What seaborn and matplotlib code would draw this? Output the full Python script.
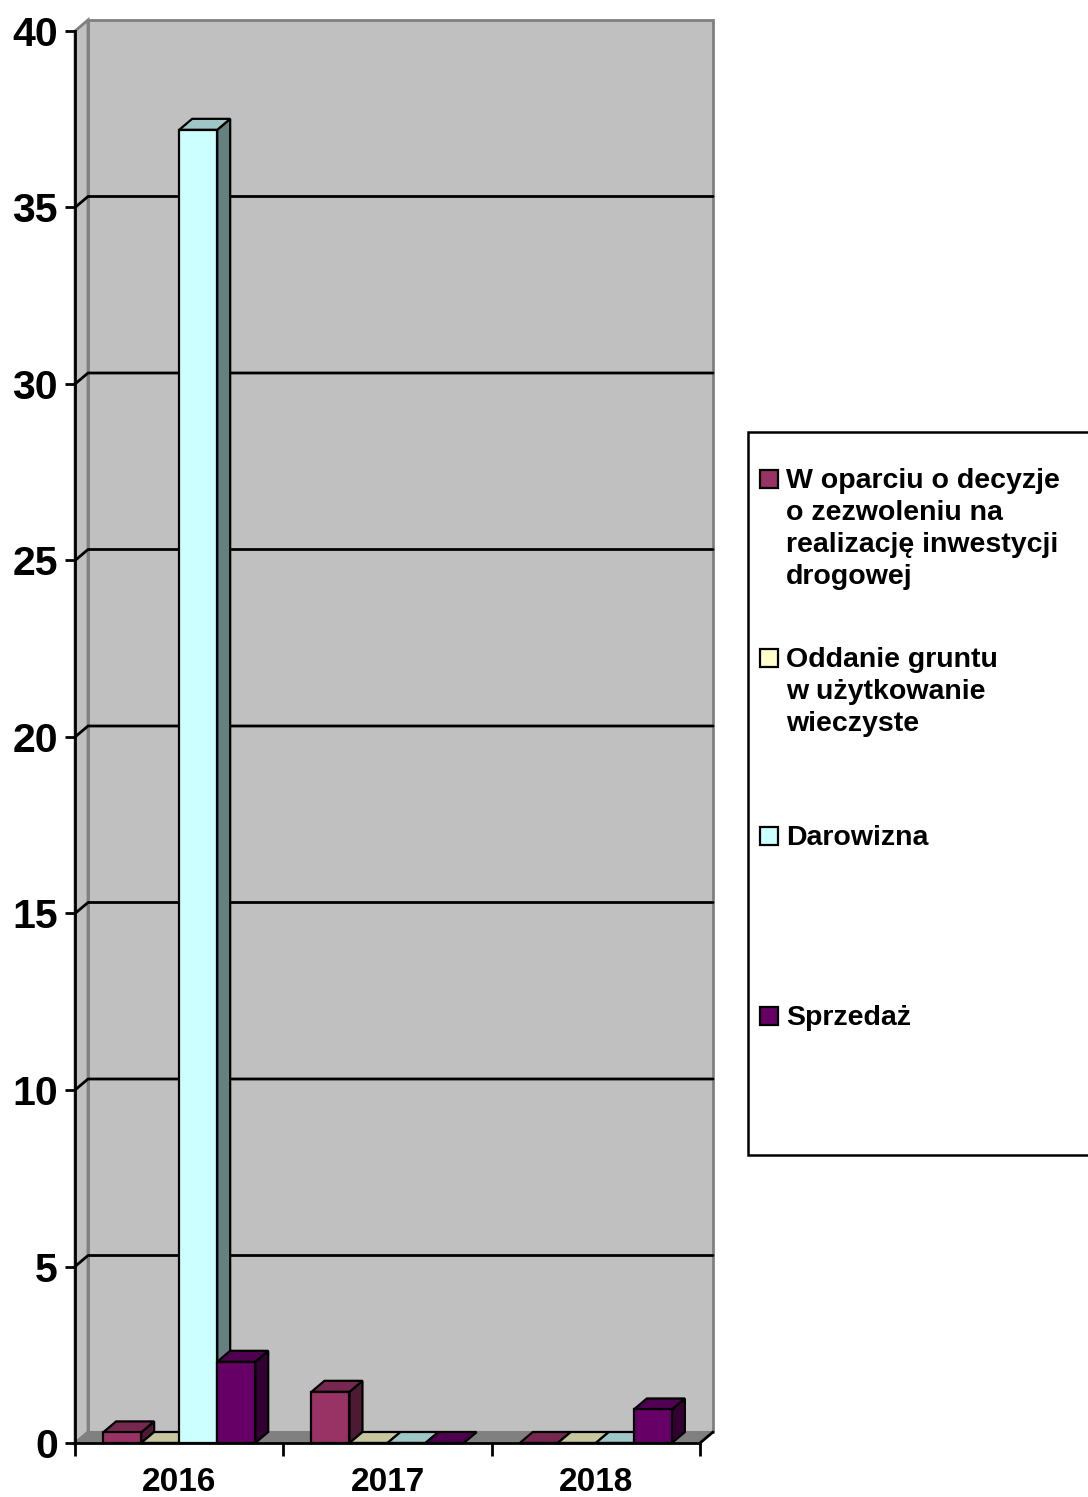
import numpy as np
import pandas as pd
import matplotlib
matplotlib.use("Agg")
import matplotlib.pyplot as plt
import seaborn as sns
from matplotlib.patches import Polygon, Rectangle
from matplotlib.transforms import IdentityTransform
from matplotlib import font_manager

# ---- data ----
years = ["2016", "2017", "2018"]
series = [
    "W oparciu o decyzje\no zezwoleniu na\nrealizację inwestycji\ndrogowej",
    "Oddanie gruntu\nw użytkowanie\nwieczyste",
    "Darowizna",
    "Sprzedaż",
]
val_decyzje = [0.3, 1.45, 0.0]
val_oddanie = [0.0, 0.0, 0.0]
val_darowizna = [37.2, 0.0, 0.0]
val_sprzedaz = [2.3, 0.0, 0.95]
colors = ["#993366", "#FFFFCC", "#CCFFFF", "#660066"]
y_ticks = [0, 5, 10, 15, 20, 25, 30, 35, 40]

rows = []
for s, vals in zip(series, [val_decyzje, val_oddanie, val_darowizna, val_sprzedaz]):
    for y, v in zip(years, vals):
        rows.append({"year": y, "series": s, "value": v})
df = pd.DataFrame(rows)

sns.set_style("white")
names = {f.name for f in font_manager.fontManager.ttflist}
narrow = "Liberation Sans Narrow" in names
axis_font = ["Liberation Sans Narrow", "Liberation Sans", "DejaVu Sans"] if narrow else ["Liberation Sans", "DejaVu Sans"]
plt.rcParams["font.family"] = ["Liberation Sans", "DejaVu Sans"]
plt.rcParams["text.color"] = "black"
plt.rcParams["xtick.color"] = "black"
plt.rcParams["ytick.color"] = "black"
plt.rcParams["axes.labelcolor"] = "black"

W, H = 1088, 1497
fig = plt.figure(figsize=(W / 100, H / 100), dpi=100)
fig.patch.set_facecolor("white")
ax = fig.add_axes([75 / W, 1 - 1443 / H, (700 - 75) / W, (1443 - 31) / H])
ax.set_facecolor("none")

sns.barplot(data=df, x="year", y="value", hue="series", hue_order=series, order=years,
            palette=colors, width=0.73, saturation=1, edgecolor="black", linewidth=1.6,
            ax=ax, legend=False, errorbar=None)

ax.set_ylim(0, 40)
ax.set_xlim(-0.5, 2.5)
ax.set_xlabel("")
ax.set_ylabel("")

DX, DY = 13, 11  # depth offset in pixels


def P(x, y, back=False):
    px, py = ax.transData.transform((x, y))
    if back:
        px += DX
        py += DY
    return (px, py)


def poly(pts, fc, ec="black", lw=1.6, z=1):
    p = Polygon(pts, closed=True, facecolor=fc, edgecolor=ec, linewidth=lw,
                transform=IdentityTransform(), clip_on=False, zorder=z)
    ax.add_artist(p)
    return p


x0, x1 = -0.5, 2.5
# back wall
poly([P(x0, 0, True), P(x1, 0, True), P(x1, 40, True), P(x0, 40, True)], "#C0C0C0", ec="#808080", lw=2, z=0.1)
# left wall
poly([P(x0, 0), P(x0, 40), P(x0, 40, True), P(x0, 0, True)], "#C0C0C0", ec="#808080", lw=2, z=0.2)
# floor
poly([P(x0, 0), P(x1, 0), P(x1, 0, True), P(x0, 0, True)], "#808080", ec="#808080", lw=1.5, z=0.3)
# floor right edge
a, b = P(x1, 0), P(x1, 0, True)
ax.add_line(matplotlib.lines.Line2D([a[0], b[0]], [a[1], b[1]], color="black", linewidth=2,
                                    transform=IdentityTransform(), zorder=5, clip_on=False))
# gridlines
for v in y_ticks[1:-1]:
    a, b, c = P(x0, v), P(x0, v, True), P(x1, v, True)
    ax.add_line(matplotlib.lines.Line2D([a[0], b[0], c[0]], [a[1], b[1], c[1]], color="black",
                                        linewidth=2, transform=IdentityTransform(), zorder=0.5, clip_on=False))


def shade(c, f):
    r, g, b = matplotlib.colors.to_rgb(c)
    return (r * f, g * f, b * f)


bars = sorted([p for p in ax.patches if isinstance(p, Rectangle)], key=lambda p: p.get_x())
for i, bar in enumerate(bars):
    bx, bw, bh = bar.get_x(), bar.get_width(), bar.get_height()
    fc = bar.get_facecolor()
    z = 2 + i * 0.01
    poly([P(bx + bw, 0), P(bx + bw, bh), P(bx + bw, bh, True), P(bx + bw, 0, True)], shade(fc, 0.5), z=z)
    poly([P(bx, bh), P(bx + bw, bh), P(bx + bw, bh, True), P(bx, bh, True)], shade(fc, 0.78), z=z + 0.001)
    bar.set_zorder(z + 0.002)
    bar.set_clip_on(False)

# spines/ticks
for s in ["top", "right"]:
    ax.spines[s].set_visible(False)
for s in ["left", "bottom"]:
    ax.spines[s].set_linewidth(2)
    ax.spines[s].set_color("black")
    ax.spines[s].set_zorder(5)
ax.set_yticks(y_ticks)
ax.set_yticklabels([str(t) for t in y_ticks])
ax.tick_params(axis="y", length=7.5, width=2, color="black", pad=5, direction="out", left=True)
ax.set_xticks([0, 1, 2])
ax.set_xticks([-0.5, 0.5, 1.5, 2.5], minor=True)
ax.tick_params(axis="x", which="major", length=0, pad=17)
ax.tick_params(axis="x", which="minor", length=9, width=2, color="black", direction="out", bottom=True)
ysz = 31 if narrow else 29.5
xsz = 27.5 if narrow else 24
for lab in ax.get_yticklabels():
    lab.set_fontfamily(axis_font)
    lab.set_fontsize(ysz)
    lab.set_fontweight("bold")
    lab.set_color("black")
for lab in ax.get_xticklabels():
    lab.set_fontfamily(axis_font)
    lab.set_fontsize(xsz)
    lab.set_fontweight("bold")
    lab.set_color("black")

# legend (manual)
def fx(px):
    return px / W


def fy(py):
    return 1 - py / H


fig.add_artist(Rectangle((fx(748), fy(1155)), fx(1100) - fx(748), fy(432) - fy(1155),
                         transform=fig.transFigure, facecolor="white", edgecolor="black", linewidth=1.8, zorder=1))
entry_tops = [479, 658, 836, 1016]
for s, c, yc in zip(series, colors, entry_tops):
    fig.add_artist(Rectangle((fx(760), fy(yc + 9)), fx(778) - fx(760), fy(yc - 9) - fy(yc + 9),
                             transform=fig.transFigure, facecolor=c, edgecolor="black", linewidth=1.6, zorder=2))
    fig.text(fx(786), fy(yc - 11), s, ha="left", va="top", fontsize=20.5, fontweight="bold",
             linespacing=1.3, zorder=3, color="black")

fig.savefig("out.png", dpi=100)
